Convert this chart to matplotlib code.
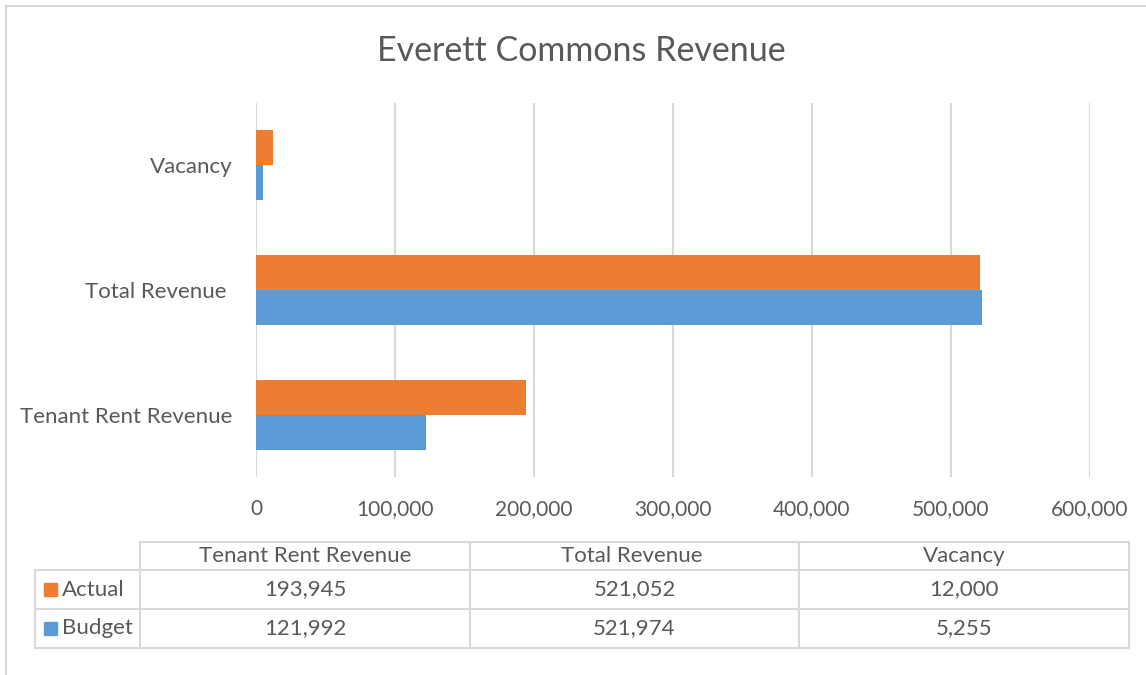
import numpy as np
import matplotlib.pyplot as plt
from matplotlib.lines import Line2D
from matplotlib.patches import Rectangle

plt.rcParams['font.family'] = ['Lato', 'DejaVu Sans']

categories = ['Tenant Rent Revenue', 'Total Revenue ', 'Vacancy']
actual = [193945, 521052, 12000]
budget = [121992, 521974, 5255]
series = ['Actual', 'Budget']
ticks = [0, 100000, 200000, 300000, 400000, 500000, 600000]

c_act = '#ED7D31'
c_bud = '#5B9BD5'
grey = '#595959'
line = '#D9D9D9'

W, H = 1146, 675
fig = plt.figure(figsize=(W / 100, H / 100), dpi=100)

# background layer in pixel coords (frame + data table)
bg = fig.add_axes([0, 0, 1, 1])
bg.set_xlim(0, W)
bg.set_ylim(H, 0)
bg.axis('off')
bg.add_line(Line2D([5.5, 5.5], [5.5, H], color=line, lw=1.5))
bg.add_line(Line2D([5.5, W], [5.5, 5.5], color=line, lw=1.5))

ax = fig.add_axes([256 / W, 1 - 477 / H, (1090 - 256) / W, (477 - 103) / H])
y = np.arange(len(categories))
h = 0.28
ax.barh(y + h / 2, actual, height=h, color=c_act, zorder=3)
ax.barh(y - h / 2, budget, height=h, color=c_bud, zorder=3)
ax.set_ylim(-0.5, 2.5)
ax.set_xlim(0, 600000)
ax.set_xticks(ticks)
ax.set_xticklabels([f'{t:,}' for t in ticks])
ax.set_yticks(y)
ax.set_yticklabels(categories)
ax.xaxis.grid(True, color=line, lw=1.5, zorder=0)
for s in ax.spines.values():
    s.set_visible(False)
ax.tick_params(length=0, colors=grey)
ax.tick_params(axis='x', pad=16, labelsize=15)
ax.tick_params(axis='y', pad=17, labelsize=16)
ax.set_facecolor('none')

fig.text(581 / W, 1 - 51 / H, 'Everett Commons Revenue', ha='center', va='center',
         fontsize=24.5, color=grey)

# data table
cols = [140, 470, 799, 1129]
rows = [542, 570, 609, 648]
left = 35
for x in cols:
    bg.add_line(Line2D([x, x], [rows[0], rows[-1]], color=line, lw=1.5))
bg.add_line(Line2D([left, left], [rows[1], rows[-1]], color=line, lw=1.5))
bg.add_line(Line2D([cols[0], cols[-1]], [rows[0], rows[0]], color=line, lw=1.5))
for r in rows[1:]:
    bg.add_line(Line2D([left, cols[-1]], [r, r], color=line, lw=1.5))

for i, cat in enumerate(categories):
    bg.text((cols[i] + cols[i + 1]) / 2, (rows[0] + rows[1]) / 2, cat,
            ha='center', va='center', fontsize=16, color=grey)
for j, (name, vals, col) in enumerate(zip(series, [actual, budget], [c_act, c_bud])):
    yc = (rows[j + 1] + rows[j + 2]) / 2
    bg.add_patch(Rectangle((44, yc - 6.5), 13, 13, color=col))
    bg.text(62, yc, name, ha='left', va='center', fontsize=16, color=grey)
    for i, v in enumerate(vals):
        bg.text((cols[i] + cols[i + 1]) / 2, yc, f'{v:,}', ha='center', va='center',
                fontsize=16, color=grey)

fig.savefig('out.png', dpi=100)
